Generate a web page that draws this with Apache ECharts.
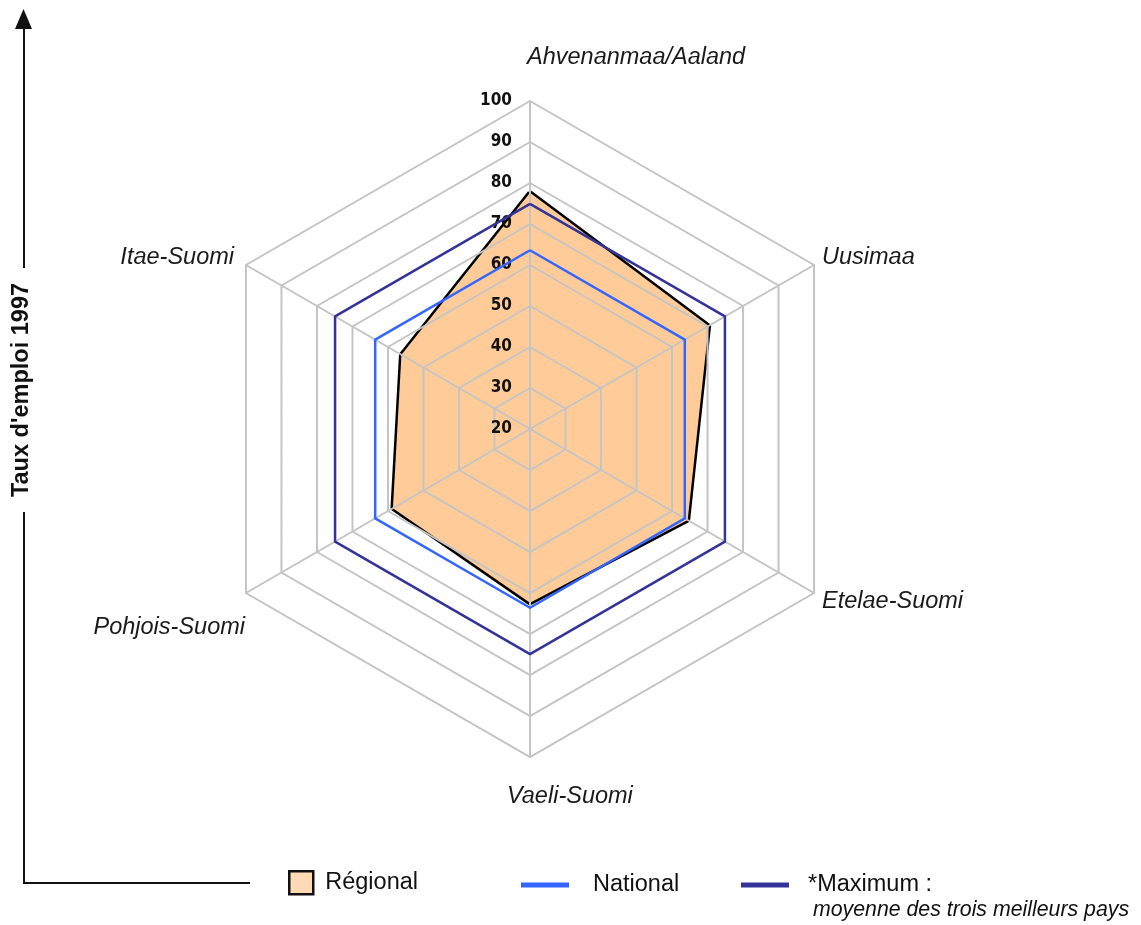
<!DOCTYPE html>
<html>
<head>
<meta charset="utf-8">
<script src="https://cdn.jsdelivr.net/npm/echarts@6/dist/echarts.min.js"></script>
<style>
html,body{margin:0;padding:0;background:#fff;}
#chart{width:1141px;height:925px;}
</style>
</head>
<body>
<div id="chart"></div>
<script>
// Categories in counter-clockwise order starting from the top (ECharts radar order)
var categories = ['Ahvenanmaa/Aaland', 'Itae-Suomi', 'Pohjois-Suomi', 'Vaeli-Suomi', 'Etelae-Suomi', 'Uusimaa'];
var regional = [77.6, 56.2, 58.6, 62.4, 64.4, 70.3];
var national = [63.6, 63.6, 63.6, 63.6, 63.6, 63.6];
var maximum = [74.9, 74.9, 74.9, 74.9, 74.9, 74.9];
var seriesNames = ['Régional', 'National', '*Maximum :'];
var axisMin = 20, axisMax = 100, axisSplits = 8;
var yTitle = 'Taux d\'emploi 1997';
var maxNote = 'moyenne des trois meilleurs pays';

var chart = echarts.init(document.getElementById('chart'), null, {renderer: 'canvas'});

var namePos = {
  'Ahvenanmaa/Aaland': {x: 527, y: 57, align: 'left'},
  'Uusimaa': {x: 822, y: 257, align: 'left'},
  'Etelae-Suomi': {x: 822, y: 601, align: 'left'},
  'Vaeli-Suomi': {x: 507, y: 796, align: 'left'},
  'Pohjois-Suomi': {x: 245, y: 627, align: 'right'},
  'Itae-Suomi': {x: 234, y: 257, align: 'right'}
};

var indicators = categories.map(function (c, i) {
  var ind = {name: c, min: axisMin, max: axisMax};
  if (i === 0) {
    ind.axisLabel = {
      show: true, color: '#111', fontFamily: '"DejaVu Sans Condensed", "Liberation Sans Narrow", sans-serif',
      fontWeight: 'bold', fontSize: 17, margin: 18
    };
  }
  return ind;
});

var graphics = [];
categories.forEach(function (c) {
  var p = namePos[c];
  graphics.push({
    type: 'text', x: p.x, y: p.y, silent: true,
    style: {text: c, fill: '#1a1a1a', font: 'italic 23.5px "Liberation Sans", Arial, sans-serif',
      textAlign: p.align, textVerticalAlign: 'middle'}
  });
});
// left "axis" arrow and bottom line
graphics.push({type: 'line', shape: {x1: 24, y1: 26, x2: 24, y2: 268}, style: {stroke: '#111', lineWidth: 2}});
graphics.push({type: 'line', shape: {x1: 24, y1: 512, x2: 24, y2: 884}, style: {stroke: '#111', lineWidth: 2}});
graphics.push({type: 'line', shape: {x1: 23, y1: 883, x2: 250, y2: 883}, style: {stroke: '#111', lineWidth: 2}});
graphics.push({type: 'polygon', shape: {points: [[23.5, 9], [15, 29], [32, 29]]}, style: {fill: '#111'}});
graphics.push({
  type: 'text', x: 22, y: 390, rotation: Math.PI / 2,
  style: {text: yTitle, fill: '#111', font: 'bold 23.5px "Liberation Sans", Arial, sans-serif',
    textAlign: 'center', textVerticalAlign: 'middle'}
});
graphics.push({
  type: 'text', x: 813, y: 910,
  style: {text: maxNote, fill: '#111', font: 'italic 21.3px "Liberation Sans", Arial, sans-serif',
    textAlign: 'left', textVerticalAlign: 'middle'}
});

var legendText = {color: '#111', fontSize: 23.5, fontFamily: '"Liberation Sans", Arial, sans-serif'};

var option = {
  backgroundColor: '#fff',
  animation: false,
  legend: [
    {
      left: 288, top: 870, padding: 0, icon: 'rect', itemWidth: 24, itemHeight: 23,
      selectedMode: false,
      textStyle: Object.assign({padding: [0, 0, 0, 7]}, legendText),
      data: [{name: seriesNames[0], itemStyle: {color: '#ffdab5', borderColor: '#111', borderWidth: 2.5}}]
    },
    {
      left: 521, top: 873, padding: 0, icon: 'rect', itemWidth: 48, itemHeight: 5, selectedMode: false,
      textStyle: Object.assign({padding: [0, 0, 0, 19]}, legendText),
      data: [{name: seriesNames[1], itemStyle: {color: '#3366ff', borderWidth: 0}}]
    },
    {
      left: 741, top: 873, padding: 0, icon: 'rect', itemWidth: 48, itemHeight: 5, selectedMode: false,
      textStyle: Object.assign({padding: [0, 0, 0, 14]}, legendText),
      data: [{name: seriesNames[2], itemStyle: {color: '#333399', borderWidth: 0}}]
    }
  ],
  radar: {
    z: 2,
    center: [530, 429],
    radius: 328,
    startAngle: 90,
    shape: 'polygon',
    splitNumber: axisSplits,
    indicator: indicators,
    axisName: {show: false},
    axisLine: {lineStyle: {color: '#c4c4c4', width: 2}},
    splitLine: {lineStyle: {color: '#c4c4c4', width: 2}},
    splitArea: {show: false},
    axisTick: {show: false},
    axisLabel: {show: false}
  },
  series: [
    {
      type: 'radar', z: 1, symbol: 'none',
      lineStyle: {color: '#000', width: 5},
      itemStyle: {color: '#ffcc99'},
      areaStyle: {color: '#ffcc99', opacity: 1},
      data: [{name: seriesNames[0], value: regional}]
    },
    {
      type: 'radar', z: 3, symbol: 'none',
      lineStyle: {color: '#3366ff', width: 2.5}, itemStyle: {color: '#3366ff'},
      data: [{name: seriesNames[1], value: national}]
    },
    {
      type: 'radar', z: 4, symbol: 'none',
      lineStyle: {color: '#333399', width: 2.5}, itemStyle: {color: '#333399'},
      data: [{name: seriesNames[2], value: maximum}]
    }
  ],
  graphic: graphics
};
chart.setOption(option);
</script>
</body>
</html>
